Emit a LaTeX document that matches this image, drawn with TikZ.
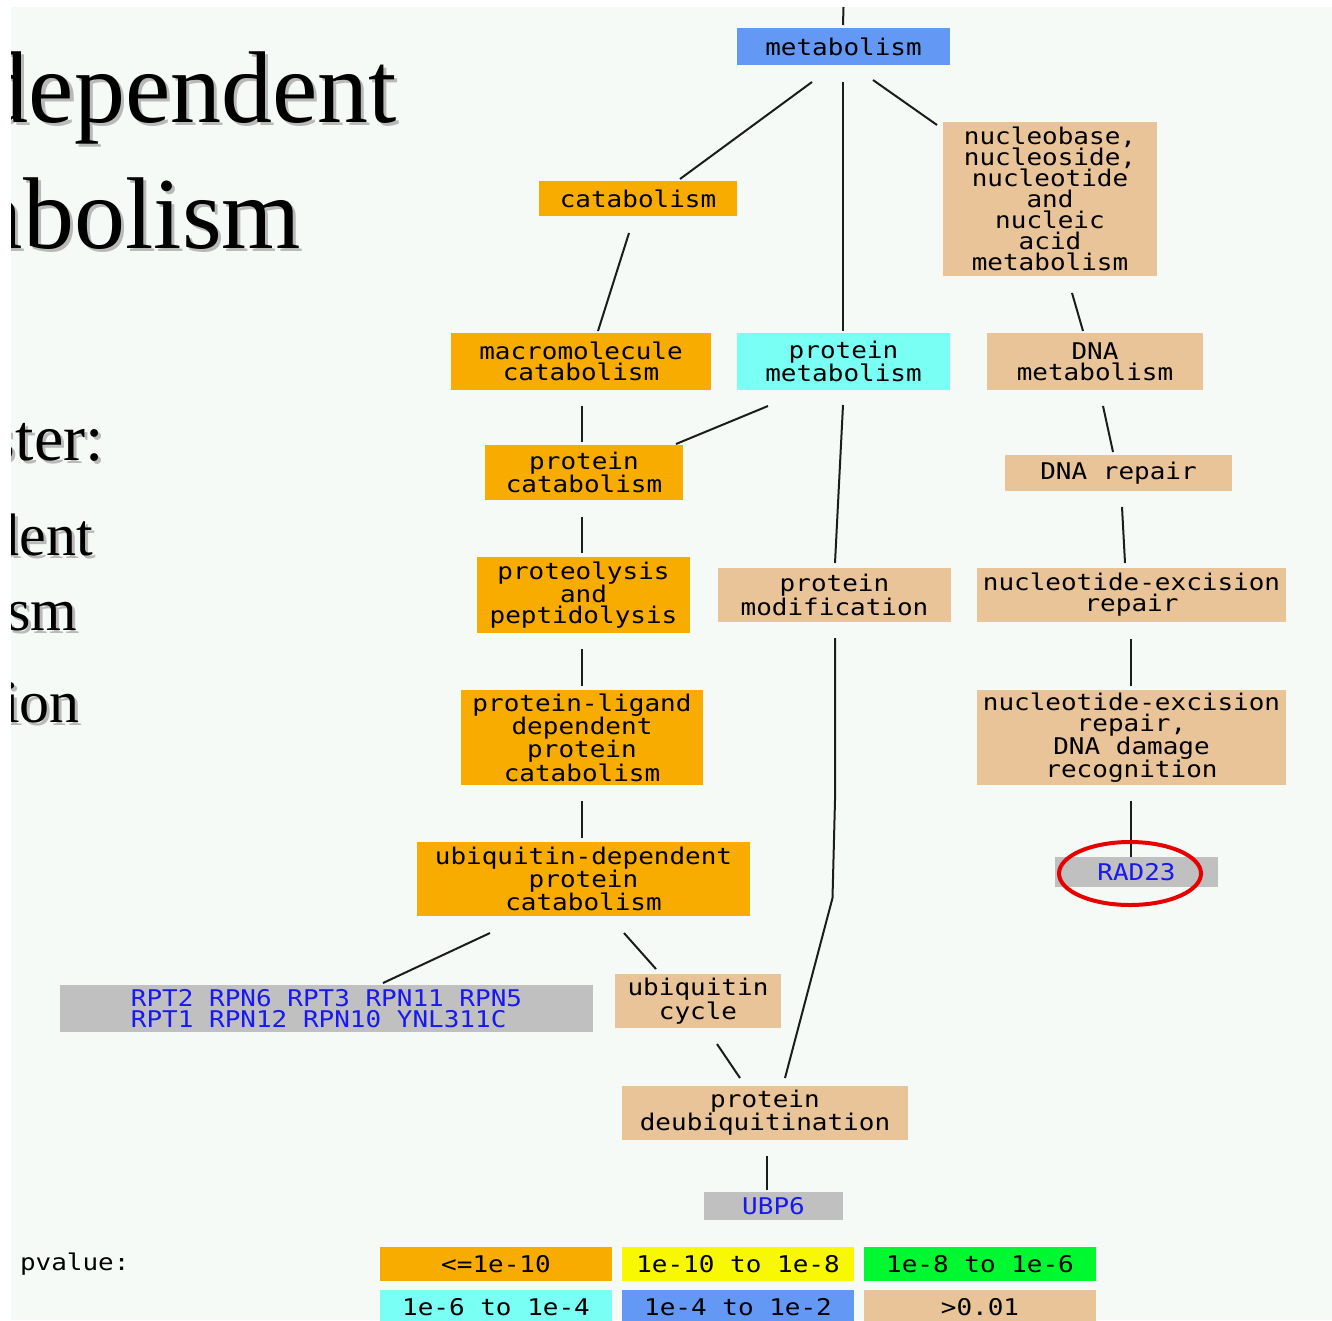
\documentclass[tikz,border=0pt]{standalone}
\usepackage{fontspec}
\setmainfont{Liberation Serif}
\newfontfamily\termfont[FakeStretch=1.13]{DejaVu Sans Mono}
\usetikzlibrary{calc}

\definecolor{pnl}{RGB}{246,250,247}
\definecolor{gorange}{RGB}{248,172,0}
\definecolor{gyellow}{RGB}{248,248,0}
\definecolor{ggreen}{RGB}{0,248,48}
\definecolor{gcyan}{RGB}{122,255,244}
\definecolor{gblue}{RGB}{100,152,245}
\definecolor{gtan}{RGB}{232,196,152}
\definecolor{ggray}{RGB}{192,192,192}
\definecolor{genetext}{RGB}{24,24,240}
\definecolor{edgeclr}{RGB}{28,28,28}
\definecolor{shadowgray}{RGB}{185,185,185}
\definecolor{ringred}{RGB}{232,0,0}

\begin{document}
\begin{tikzpicture}[x=1pt,y=-1pt,
  term/.style={rectangle, inner sep=0pt, outer sep=0pt, align=center,
    font=\termfont\fontsize{23}{21}\selectfont, text=black},
  gene/.style={term, fill=ggray, text=genetext},
  link/.style={draw=edgeclr, line width=2pt},
  heading/.style={anchor=base west, inner sep=0pt, outer sep=0pt},
  headshadow/.style={heading, text=shadowgray},
  legendbox/.style={term, minimum width=232pt, minimum height=34pt}]

\useasboundingbox (0,0) rectangle (1332,1320);
\fill[white] (0,0) rectangle (1332,1320);
\fill[pnl] (11,7) rectangle (1332,1320);

% slide heading text, cut off by the panel edge
\begin{scope}
  \clip (11,7) rectangle (1332,1320);
  \node[headshadow, font=\fontsize{102}{110}\selectfont] (h1s) at (-19,125) {dependent};
  \node[heading, font=\fontsize{102}{110}\selectfont] (h1) at (-22,122) {dependent};
  \node[headshadow, font=\fontsize{102}{110}\selectfont] (h2s) at (-19,251) {abolism};
  \node[heading, font=\fontsize{102}{110}\selectfont] (h2) at (-22,248) {abolism};
  \node[headshadow, font=\fontsize{66}{70}\selectfont] (h3s) at (-7,463) {ster:};
  \node[heading, font=\fontsize{66}{70}\selectfont] (h3) at (-10,460) {ster:};
  \node[headshadow, font=\fontsize{60}{64}\selectfont] (h4s) at (-7,558) {dent};
  \node[heading, font=\fontsize{60}{64}\selectfont] (h4) at (-10,555) {dent};
  \node[headshadow, font=\fontsize{60}{64}\selectfont] (h5s) at (10,633) {sm};
  \node[heading, font=\fontsize{60}{64}\selectfont] (h5) at (7,630) {sm};
  \node[headshadow, font=\fontsize{60}{64}\selectfont] (h6s) at (6,725) {ion};
  \node[heading, font=\fontsize{60}{64}\selectfont] (h6) at (3,722) {ion};
\end{scope}

% GO term nodes
\node[term, fill=gblue, minimum width=213pt, minimum height=37pt] (metab) at (843.5,46.5) {metabolism};
\node[term, fill=gorange, minimum width=198pt, minimum height=35pt] (catab) at (638,198.5) {catabolism};
\node[term, fill=gtan, minimum width=214pt, minimum height=154pt] (nucl) at (1050,199)
  {nucleobase,\\nucleoside,\\nucleotide\\and\\nucleic\\acid\\metabolism};
\node[term, fill=gorange, minimum width=260pt, minimum height=57pt] (macro) at (581,361.5) {macromolecule\\catabolism};
\node[term, fill=gcyan, minimum width=213pt, minimum height=57pt] (protmet) at (843.5,361.5) {protein\\metabolism};
\node[term, fill=gtan, minimum width=216pt, minimum height=57pt] (dnamet) at (1095,361.5) {DNA\\metabolism};
\node[term, fill=gorange, minimum width=198pt, minimum height=55pt] (protcat) at (584,472.5) {protein\\catabolism};
\node[term, fill=gtan, minimum width=227pt, minimum height=36pt] (dnarep) at (1118.5,473) {DNA repair};
\node[term, fill=gorange, minimum width=213pt, minimum height=76pt] (proteol) at (583.5,595) {proteolysis\\and\\peptidolysis};
\node[term, fill=gtan, minimum width=233pt, minimum height=54pt] (protmod) at (834.5,595) {protein\\modification};
\node[term, fill=gtan, minimum width=309pt, minimum height=54pt] (ner) at (1131.5,595) {nucleotide-excision\\repair};
\node[term, fill=gorange, minimum width=242pt, minimum height=95pt] (protlig) at (582,737.5) {protein-ligand\\dependent\\protein\\catabolism};
\node[term, fill=gtan, minimum width=309pt, minimum height=95pt] (nerdmg) at (1131.5,737.5) {nucleotide-excision\\repair,\\DNA damage\\recognition};
\node[gene, minimum width=163pt, minimum height=30pt] (rad) at (1136.5,872) {RAD23};
\node[term, fill=gorange, minimum width=333pt, minimum height=74pt] (ubdep) at (583.5,879) {ubiquitin-dependent\\protein\\catabolism};
\node[gene, align=left, minimum width=533pt, minimum height=47pt] (rpt) at (326.5,1008.5) {RPT2 RPN6 RPT3 RPN11 RPN5\\RPT1 RPN12 RPN10 YNL311C};
\node[term, fill=gtan, minimum width=166pt, minimum height=54pt] (ubcyc) at (698,1001) {ubiquitin\\cycle};
\node[term, fill=gtan, minimum width=286pt, minimum height=54pt] (deubq) at (765,1113) {protein\\deubiquitination};
\node[gene, minimum width=139pt, minimum height=28pt] (ubp) at (773.5,1206) {UBP6};

% connectors
\coordinate (rootend) at (843.5,7);
\draw[link] (rootend) -- ($(metab.north)+(-0.5,-3)$);
\draw[link] ($(metab.south)+(-31.5,17)$) -- ($(catab.north)+(42,-2)$);
\draw[link] ($(metab.south)+(-0.5,17)$) -- ($(protmet.north)+(-0.5,-2)$);
\draw[link] ($(metab.south)+(29.5,15)$) -- ($(nucl.north west)+(-6,3)$);
\draw[link] ($(catab.south)+(-9,17)$) -- ($(macro.north)+(17,-2)$);
\draw[link] ($(nucl.south)+(22,17)$) -- ($(dnamet.north)+(-12,-2)$);
\draw[link] ($(macro.south)+(1,16)$) -- ($(protcat.north)+(-2,-3)$);
\draw[link] ($(protmet.south)+(-75.5,16)$) -- ($(protcat.north east)+(-7,-1)$);
\draw[link] ($(protmet.south)+(-0.5,15)$) -- ($(protmod.north)+(0.5,-5)$);
\draw[link] ($(dnamet.south)+(8,16)$) -- ($(dnarep.north)+(-5.5,-3)$);
\draw[link] ($(protcat.south)+(-2,17)$) -- ($(proteol.north)+(-1.5,-4)$);
\draw[link] ($(dnarep.south)+(3.5,16)$) -- ($(ner.north)+(-6.5,-5)$);
\draw[link] ($(proteol.south)+(-1.5,16)$) -- ($(protlig.north)+(0,-4)$);
\draw[link] ($(ner.south)+(-0.5,17)$) -- ($(nerdmg.north)+(-0.5,-4)$);
\draw[link] ($(protlig.south)+(0,16)$) -- ($(ubdep.north)+(-1.5,-4)$);
\draw[link] ($(nerdmg.south)+(-0.5,16)$) -- ($(rad.north)+(-5.5,0)$);
\draw[link] ($(protmod.south)+(0.5,16)$) -- ++(0,162) -- ++(-2.5,98) -- ($(deubq.north)+(20,-8)$);
\draw[link] ($(ubdep.south)+(-93.5,17)$) -- ($(rpt.north)+(56.5,-2)$);
\draw[link] ($(ubdep.south)+(40.5,17)$) -- ($(ubcyc.north)+(-42,-5)$);
\draw[link] ($(ubcyc.south)+(19,16)$) -- ($(deubq.north)+(-25,-8)$);
\draw[link] ($(deubq.south)+(2,16)$) -- ($(ubp.north)+(-6.5,-2)$);

% highlight ring
\draw[ringred, line width=4pt] ($(rad.center)+(-6.5,1.5)$) ellipse [x radius=71, y radius=31.5];

% legend
\node[term, anchor=west] (pv) at (20,1264) {pvalue:};
\begin{scope}
  \clip (0,0) rectangle (1332,1320);
  \node[legendbox, fill=gorange] (l1) at (496,1264) {<=1e-10};
  \node[legendbox, fill=gyellow] (l2) at (738,1264) {1e-10 to 1e-8};
  \node[legendbox, fill=ggreen] (l3) at (980,1264) {1e-8 to 1e-6};
  \node[legendbox, fill=gcyan] (l4) at (496,1307) {1e-6 to 1e-4};
  \node[legendbox, fill=gblue] (l5) at (738,1307) {1e-4 to 1e-2};
  \node[legendbox, fill=gtan] (l6) at (980,1307) {>0.01};
\end{scope}
\end{tikzpicture}
\end{document}
